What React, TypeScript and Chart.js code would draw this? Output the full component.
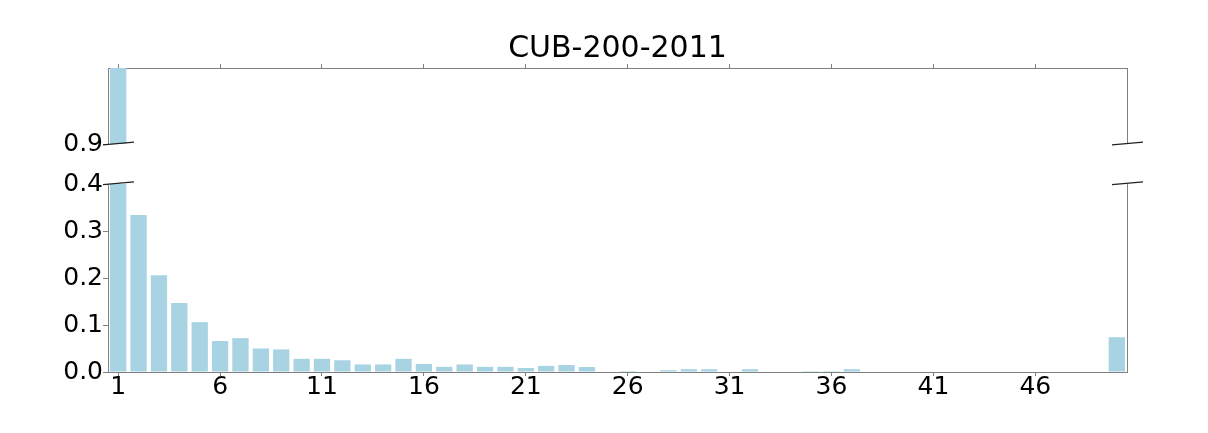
import React, { useEffect, useRef } from "react";
import { Chart, registerables } from "chart.js";

Chart.register(...registerables);

const TITLE = "CUB-200-2011";
const categories: string[] = Array.from({ length: 50 }, (_, i) => String(i + 1));
const values: number[] = [
  1.0, 0.334, 0.206, 0.147, 0.106, 0.066, 0.072, 0.05, 0.048, 0.028,
  0.028, 0.025, 0.016, 0.016, 0.028, 0.017, 0.011, 0.016, 0.011, 0.011,
  0.0085, 0.013, 0.015, 0.0106, 0, 0.002, 0.001, 0.004, 0.006, 0.006,
  0, 0.006, 0, 0.001, 0.002, 0.002, 0.006, 0.001, 0.001, 0,
  0, 0, 0.001, 0.001, 0, 0, 0, 0, 0, 0.074,
];
const shownXTicks: string[] = ["1", "6", "11", "16", "21", "26", "31", "36", "41", "46"];
const bottomYTicks: number[] = [0, 0.1, 0.2, 0.3, 0.4];
const topYTicks: number[] = [0.9];

const FONT = "'DejaVu Sans', sans-serif";
const BAR = "#a7d3e3";
const SPINE = "#808080";
const W = 1208;
const LEFT = 108;
const RIGHT = 1127;

function breakMarks(ctx: CanvasRenderingContext2D, y: number) {
  ctx.save();
  ctx.strokeStyle = "#222";
  ctx.lineWidth = 1.3;
  for (const cx of [118.5, 1127.5]) {
    ctx.beginPath();
    ctx.moveTo(cx - 15.5, y + 1.4);
    ctx.lineTo(cx + 15.5, y - 1.4);
    ctx.stroke();
  }
  ctx.restore();
}

function rightSpine(ctx: CanvasRenderingContext2D, top: number, bottom: number) {
  ctx.save();
  ctx.strokeStyle = SPINE;
  ctx.lineWidth = 1;
  ctx.beginPath();
  ctx.moveTo(RIGHT + 0.5, top);
  ctx.lineTo(RIGHT + 0.5, bottom);
  ctx.stroke();
  ctx.restore();
}

const tickColor = (c: any) => (shownXTicks.includes(categories[c.index]) ? SPINE : "rgba(0,0,0,0)");

export default function App() {
  const topRef = useRef<HTMLCanvasElement>(null);
  const botRef = useRef<HTMLCanvasElement>(null);

  useEffect(() => {
    const dataset = {
      data: values,
      backgroundColor: BAR,
      borderWidth: 0,
      categoryPercentage: 1,
      barPercentage: 0.8,
    };

    const topChart = new Chart(topRef.current!, {
      type: "bar",
      data: { labels: categories, datasets: [{ ...dataset }] },
      options: {
        animation: false,
        responsive: false,
        maintainAspectRatio: false,
        layout: { padding: { left: 0, right: W - RIGHT, top: 0, bottom: 16 } },
        plugins: { legend: { display: false }, tooltip: { enabled: false } },
        scales: {
          x: {
            type: "category",
            position: "top",
            offset: true,
            grid: { offset: false, drawOnChartArea: false, drawTicks: true, tickLength: 4, color: tickColor },
            border: { display: true, color: SPINE, width: 1 },
            ticks: { autoSkip: false, maxRotation: 0, callback: () => "" },
            afterFit: (s: any) => { s.height = 68; },
          },
          y: {
            min: 0.9,
            max: 1.0,
            grid: { drawOnChartArea: false, drawTicks: true, tickLength: 5, color: SPINE },
            border: { display: true, color: SPINE, width: 1 },
            ticks: {
              color: "#000",
              padding: 0,
              font: { family: FONT, size: 25 },
              callback: (v: any) => Number(v).toFixed(1),
            },
            afterBuildTicks: (s: any) => { s.ticks = topYTicks.map((v) => ({ value: v })); },
            afterFit: (s: any) => { s.width = LEFT; },
          },
        },
      },
      plugins: [
        {
          id: "topDecor",
          afterDraw: (chart: any) => {
            const ctx = chart.ctx as CanvasRenderingContext2D;
            const a = chart.chartArea;
            rightSpine(ctx, a.top, a.bottom);
            breakMarks(ctx, a.bottom - 0.5);
            ctx.save();
            ctx.fillStyle = "#000";
            ctx.font = `30px ${FONT}`;
            ctx.textAlign = "center";
            ctx.textBaseline = "alphabetic";
            ctx.fillText(TITLE, (LEFT + RIGHT) / 2, 56.5);
            ctx.restore();
          },
        },
      ],
    });

    const botChart = new Chart(botRef.current!, {
      type: "bar",
      data: { labels: categories, datasets: [{ ...dataset }] },
      options: {
        animation: false,
        responsive: false,
        maintainAspectRatio: false,
        layout: { padding: { left: 0, right: W - RIGHT, top: 24, bottom: 0 } },
        plugins: { legend: { display: false }, tooltip: { enabled: false } },
        scales: {
          x: {
            type: "category",
            position: "bottom",
            offset: true,
            grid: { offset: false, drawOnChartArea: false, drawTicks: true, tickLength: 4, color: tickColor },
            border: { display: true, color: SPINE, width: 1 },
            ticks: {
              autoSkip: false,
              maxRotation: 0,
              padding: -1,
              color: "#000",
              font: { family: FONT, size: 25, lineHeight: 1 },
              callback: (_v: any, i: number) => (shownXTicks.includes(categories[i]) ? categories[i] : ""),
            },
            afterFit: (s: any) => { s.height = 61; },
          },
          y: {
            min: 0,
            max: 0.4,
            grid: { drawOnChartArea: false, drawTicks: true, tickLength: 5, color: SPINE },
            border: { display: true, color: SPINE, width: 1 },
            ticks: {
              color: "#000",
              padding: 0,
              font: { family: FONT, size: 25 },
              callback: (v: any) => Number(v).toFixed(1),
            },
            afterBuildTicks: (s: any) => { s.ticks = bottomYTicks.map((v) => ({ value: v })); },
            afterFit: (s: any) => { s.width = LEFT; },
          },
        },
      },
      plugins: [
        {
          id: "botDecor",
          afterDraw: (chart: any) => {
            const ctx = chart.ctx as CanvasRenderingContext2D;
            const a = chart.chartArea;
            rightSpine(ctx, a.top, a.bottom);
            breakMarks(ctx, a.top - 0.8);
          },
        },
      ],
    });

    return () => {
      topChart.destroy();
      botChart.destroy();
    };
  }, []);

  return (
    <div style={{ position: "absolute", left: 0, top: 0, width: W, height: 433, background: "#fff" }}>
      <canvas ref={topRef} width={W} height={160} style={{ position: "absolute", left: 0, top: 0, width: W, height: 160 }} />
      <canvas ref={botRef} width={W} height={273} style={{ position: "absolute", left: 0, top: 160, width: W, height: 273 }} />
    </div>
  );
}
